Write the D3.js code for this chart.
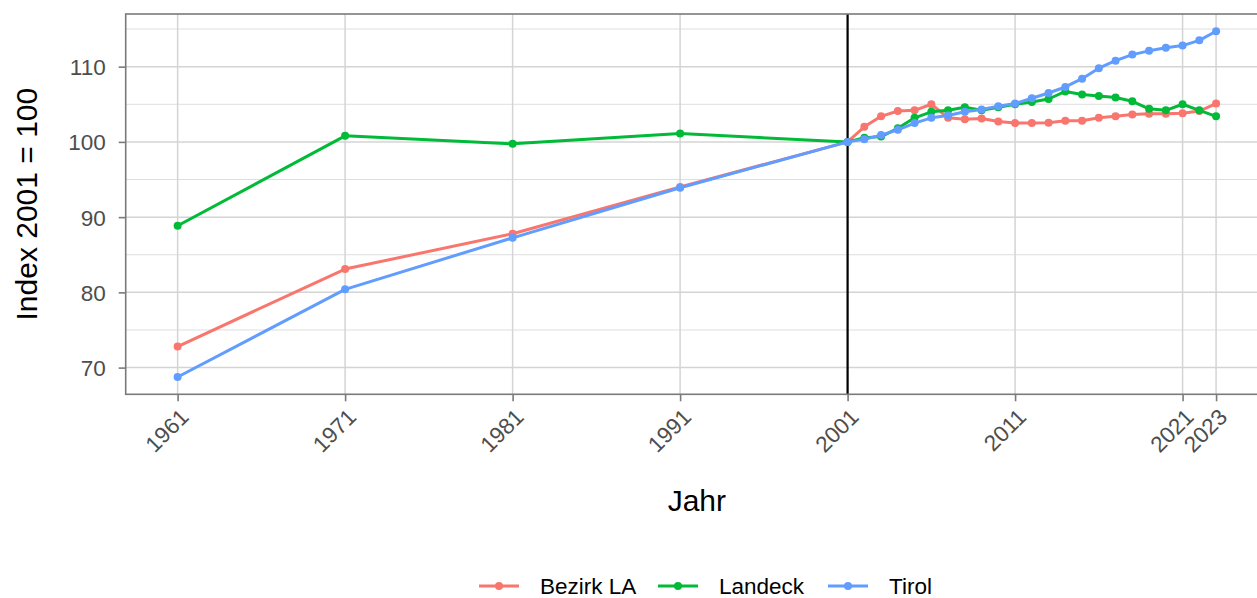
<!DOCTYPE html>
<html>
<head>
<meta charset="utf-8">
<script src="https://cdn.jsdelivr.net/npm/d3@7"></script>
<style>
  body { margin: 0; background: #fff; }
  svg { display: block; font-family: "Liberation Sans", Arial, sans-serif; }
</style>
</head>
<body>
<svg id="chart" width="1257" height="598"></svg>
<script>
// data
var years = [1961, 1971, 1981, 1991, 2001, 2002, 2003, 2004, 2005, 2006, 2007, 2008, 2009,
  2010, 2011, 2012, 2013, 2014, 2015, 2016, 2017, 2018, 2019, 2020, 2021, 2022, 2023];
var bezirkLA = [72.8, 83.1, 87.8, 94.0, 100, 102.0, 103.4, 104.1, 104.2, 105.0, 103.2, 103.0, 103.1,
  102.7, 102.5, 102.5, 102.55, 102.8, 102.8, 103.2, 103.4, 103.65, 103.75, 103.75, 103.8, 104.1, 105.1];
var landeck = [88.85, 100.8, 99.75, 101.1, 100, 100.55, 100.7, 101.8, 103.2, 104.0, 104.2, 104.6, 104.2,
  104.6, 105.0, 105.3, 105.7, 106.7, 106.3, 106.1, 105.9, 105.4, 104.4, 104.2, 105.0, 104.2, 103.4];
var tirol = [68.75, 80.4, 87.25, 93.9, 100, 100.35, 100.9, 101.6, 102.5, 103.2, 103.5, 104.0, 104.3,
  104.75, 105.1, 105.8, 106.5, 107.3, 108.4, 109.8, 110.8, 111.6, 112.1, 112.5, 112.8, 113.5, 114.7];

var seriesNames = ['Bezirk LA', 'Landeck', 'Tirol'];
var seriesColors = ['#F8766D', '#00BA38', '#619CFF'];
var xBreaks = [1961, 1971, 1981, 1991, 2001, 2011, 2021, 2023];
var yBreaks = [70, 80, 90, 100, 110];
var yMinor = [75, 85, 95, 105, 115];
var refYear = 2001;

var series = [bezirkLA, landeck, tirol].map(function(vals, i) {
  return { name: seriesNames[i], color: seriesColors[i],
    values: years.map(function(y, j) { return { year: y, v: vals[j] }; }) };
});

var svg = d3.select('#chart');
// panel box (right edge runs past the window like in the reference)
var pLeft = 125.7, pRight = 1268, pTop = 14, pBottom = 394.3;

// ggplot style 5% expansion
var xr = d3.extent(years), xpad = (xr[1] - xr[0]) * 0.05;
var allVals = bezirkLA.concat(landeck, tirol);
var yr = d3.extent(allVals), ypad = (yr[1] - yr[0]) * 0.05;

var x = d3.scaleLinear().domain([xr[0] - xpad, xr[1] + xpad]).range([pLeft, pRight]);
var y = d3.scaleLinear().domain([yr[0] - ypad, yr[1] + ypad]).range([pBottom, pTop]);

// grid
var grid = svg.append('g');
grid.selectAll('.ymin').data(yMinor).enter().append('line')
  .attr('x1', pLeft).attr('x2', pRight)
  .attr('y1', function(d) { return y(d); }).attr('y2', function(d) { return y(d); })
  .attr('stroke', '#dedede').attr('stroke-width', 1);
grid.selectAll('.ymaj').data(yBreaks).enter().append('line')
  .attr('x1', pLeft).attr('x2', pRight)
  .attr('y1', function(d) { return y(d); }).attr('y2', function(d) { return y(d); })
  .attr('stroke', '#d4d4d4').attr('stroke-width', 1.5);
grid.selectAll('.xmaj').data(xBreaks).enter().append('line')
  .attr('y1', pTop).attr('y2', pBottom)
  .attr('x1', function(d) { return x(d); }).attr('x2', function(d) { return x(d); })
  .attr('stroke', '#d4d4d4').attr('stroke-width', 1.5);

// reference line
svg.append('line')
  .attr('x1', x(refYear)).attr('x2', x(refYear))
  .attr('y1', pTop).attr('y2', pBottom)
  .attr('stroke', '#000').attr('stroke-width', 2.2);

// lines and points
var line = d3.line().x(function(d) { return x(d.year); }).y(function(d) { return y(d.v); });
series.forEach(function(s) {
  svg.append('path').datum(s.values)
    .attr('d', line).attr('fill', 'none')
    .attr('stroke', s.color).attr('stroke-width', 3)
    .attr('stroke-linejoin', 'round');
  svg.append('g').selectAll('circle').data(s.values).enter().append('circle')
    .attr('cx', function(d) { return x(d.year); })
    .attr('cy', function(d) { return y(d.v); })
    .attr('r', 4).attr('fill', s.color);
});

// panel border
svg.append('rect')
  .attr('x', pLeft).attr('y', pTop)
  .attr('width', pRight - pLeft).attr('height', pBottom - pTop)
  .attr('fill', 'none').attr('stroke', '#7a7a7a').attr('stroke-width', 1.6);

// axes
var yAxis = svg.append('g').attr('transform', 'translate(' + pLeft + ',0)')
  .call(d3.axisLeft(y).tickValues(yBreaks).tickSize(7).tickPadding(13).tickFormat(d3.format('d')));
var xAxis = svg.append('g').attr('transform', 'translate(0,' + pBottom + ')')
  .call(d3.axisBottom(x).tickValues(xBreaks).tickSize(7).tickFormat(d3.format('d')));
[yAxis, xAxis].forEach(function(a) {
  a.select('.domain').remove();
  a.selectAll('.tick line').attr('stroke', '#7a7a7a').attr('stroke-width', 1.6);
  a.selectAll('.tick text').attr('fill', '#4d4d4d').style('font-size', '22.5px')
    .style('font-family', '"Liberation Sans", Arial, sans-serif');
});
yAxis.selectAll('.tick text').attr('dy', '0.36em');
xAxis.selectAll('.tick text')
  .attr('text-anchor', 'end')
  .attr('dy', null).attr('y', null)
  .attr('transform', 'translate(12,24) rotate(-45)');

// axis titles
svg.append('text')
  .attr('x', (pLeft + pRight) / 2).attr('y', 511)
  .attr('text-anchor', 'middle').style('font-size', '30px').text('Jahr');
svg.append('text')
  .attr('transform', 'translate(37,' + ((pTop + pBottom) / 2) + ') rotate(-90)')
  .attr('text-anchor', 'middle').style('font-size', '30px').text('Index 2001 = 100');

// legend
var legendX = [479, 658, 828];
var leg = svg.append('g').attr('transform', 'translate(0,586)');
series.forEach(function(s, i) {
  var g = leg.append('g').attr('transform', 'translate(' + legendX[i] + ',0)');
  g.append('line').attr('x1', 0).attr('x2', 40).attr('y1', 0).attr('y2', 0)
    .attr('stroke', s.color).attr('stroke-width', 3);
  g.append('circle').attr('cx', 20).attr('cy', 0).attr('r', 4).attr('fill', s.color);
  g.append('text').attr('x', 61).attr('y', 0).attr('dy', '0.36em')
    .style('font-size', '22.5px').text(s.name);
});
</script>
</body>
</html>
